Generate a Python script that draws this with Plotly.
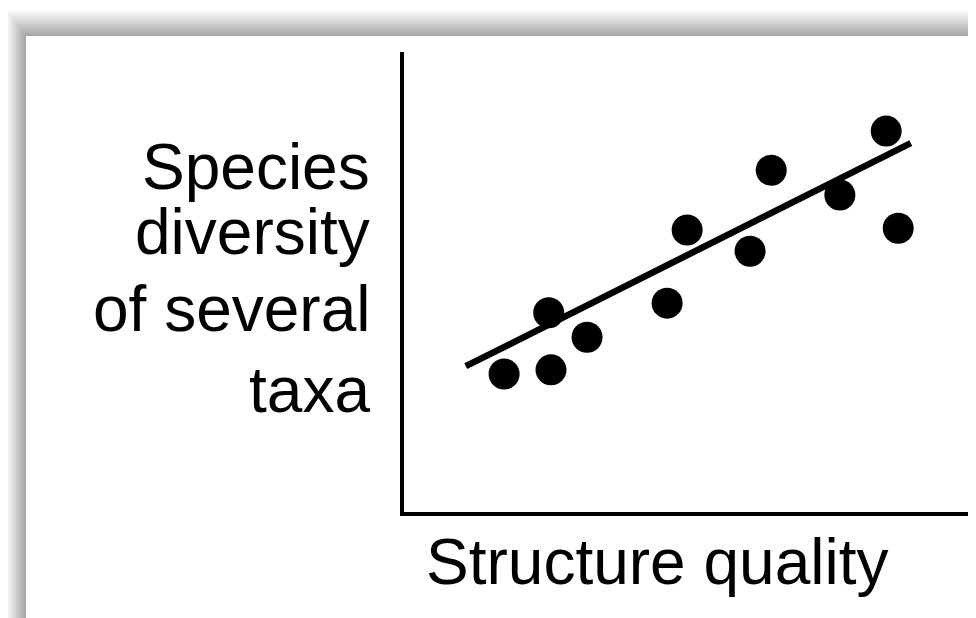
import plotly.graph_objects as go

# ---- data (axis units 0-100) ----
structure_quality = [17.5, 25.7, 25.3, 32.0, 46.0, 49.5, 60.5, 64.2, 76.2, 84.3, 86.4]
species_diversity = [30.0, 30.9, 43.3, 38.0, 45.4, 61.3, 56.7, 74.3, 68.9, 82.8, 61.7]
trend_x = [10.8, 88.6]
trend_y = [31.7, 80.2]
y_title_lines = ["Species", "diversity", "of several", "taxa"]
x_title = "Structure quality"

OFF = 8  # page body margin
W, H = 976 - OFF, 618 - OFF
L, R, T, B = 404 - OFF, 976 - OFF, 52 - OFF, 512 - OFF  # plot area in figure pixels


def px(x):
    return (x - OFF - L) / (R - L)


def py(y):
    return (B - (y - OFF)) / (B - T)


FONT = "Liberation Sans, Arial, sans-serif"

fig = go.Figure()
fig.add_trace(go.Scatter(
    x=trend_x, y=trend_y, mode="lines",
    line=dict(color="black", width=6.5), hoverinfo="skip", showlegend=False))
fig.add_trace(go.Scatter(
    x=structure_quality, y=species_diversity, mode="markers",
    marker=dict(color="black", size=31, line=dict(width=0)), showlegend=False))

shapes = []
# soft shadow around the card
N = 30
for k in range(N, 0, -1):
    dx = 20 * k / N
    dy = 26 * k / N
    shapes.append(dict(type="rect", xref="paper", yref="paper", layer="below",
                       x0=px(26 - dx), x1=px(1100), y0=py(36 - dy), y1=py(800),
                       fillcolor="rgba(0,0,0,0.012)", line=dict(width=0)))
# white card
shapes.append(dict(type="rect", xref="paper", yref="paper", layer="below",
                   x0=px(26), x1=px(1100), y0=py(36), y1=py(800),
                   fillcolor="white", line=dict(width=0)))

annotations = []
baselines = [190, 255, 332, 413]
fs = 64
for txt, bl in zip(y_title_lines, baselines):
    annotations.append(dict(text=txt, xref="paper", yref="paper",
                            x=px(372), y=py(bl - 0.36 * fs), xanchor="right", yanchor="middle",
                            showarrow=False, align="right",
                            font=dict(family=FONT, size=fs, color="black")))
annotations.append(dict(text=x_title, xref="paper", yref="paper",
                        x=px(657), y=py(585 - 0.36 * fs), xanchor="center", yanchor="middle",
                        showarrow=False, font=dict(family=FONT, size=fs, color="black")))

fig.update_layout(
    width=W, height=H,
    margin=dict(l=L, r=W - R, t=T, b=H - B, pad=0),
    paper_bgcolor="white", plot_bgcolor="rgba(0,0,0,0)",
    shapes=shapes, annotations=annotations, showlegend=False,
    xaxis=dict(range=[0, 100], showline=True, linecolor="black", linewidth=4,
               showgrid=False, zeroline=False, showticklabels=False, ticks=""),
    yaxis=dict(range=[0, 100], showline=True, linecolor="black", linewidth=4,
               showgrid=False, zeroline=False, showticklabels=False, ticks=""),
)

fig.write_html("out.html")
